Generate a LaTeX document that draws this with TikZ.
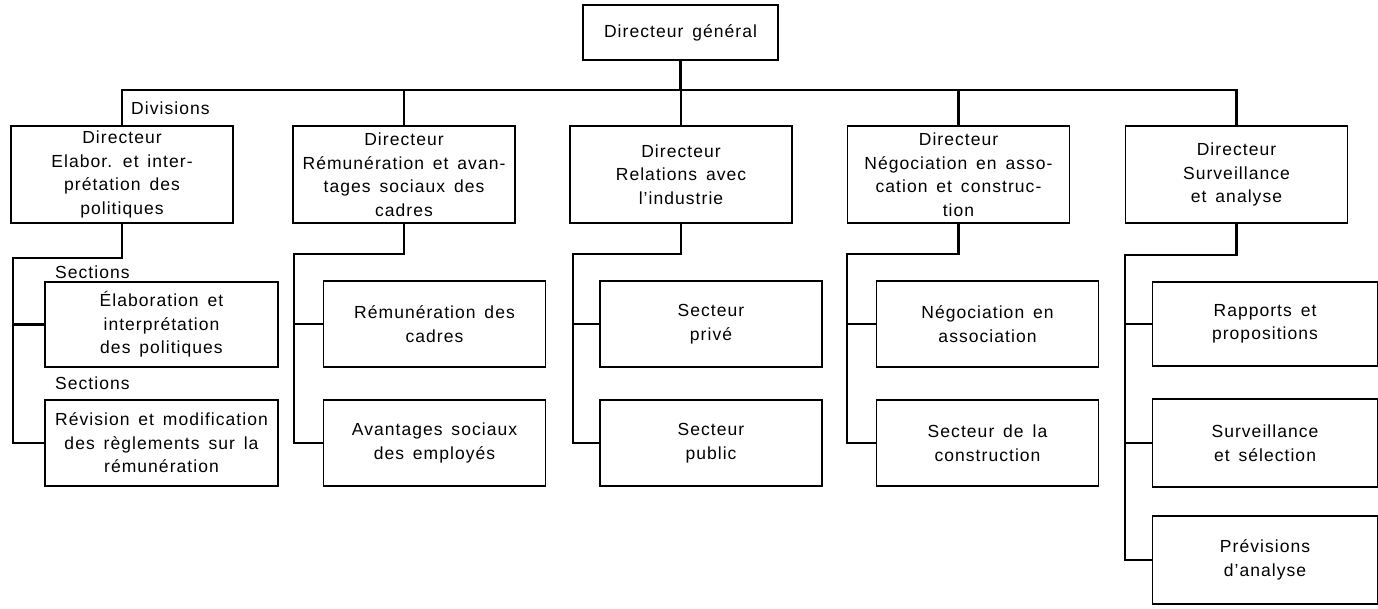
\documentclass[tikz,border=0pt]{standalone}
\usepackage{fontspec}
\setmainfont{Liberation Sans}[LetterSpace=6, WordSpace=1.5]
\newcommand{\apos}{\char"0027\relax}
\begin{document}
\begin{tikzpicture}[x=1pt,y=-1pt,
  orgbox/.style={draw, line width=1.8pt, rectangle, inner sep=0pt, align=center,
    font=\fontsize{17.5}{23.5}\selectfont},
  divbox/.style={orgbox, minimum width=222pt, minimum height=97pt},
  subbox/.style={orgbox, minimum width=222pt, minimum height=86pt},
  conn/.style={line width=2.8pt, line join=miter},
  tag/.style={anchor=west, inner sep=0pt, font=\fontsize{17.5}{20}\selectfont}]
\useasboundingbox (0,0) rectangle (1378,608);

% head of the organisation
\node[orgbox, minimum width=195pt, minimum height=55pt] (top) at (680.5,32.5) {Directeur général};

% divisions
\node[divbox] (d1) at (122,174.5) {Directeur\\Elabor. et inter-\\prétation des\\politiques};
\node[divbox] (d2) at (404,174.5) {Directeur\\Rémunération et avan-\\tages sociaux des\\cadres};
\node[divbox] (d3) at (681,174.5) {Directeur\\Relations avec\\l\apos industrie};
\node[divbox] (d4) at (958.5,174.5) {Directeur\\Négociation en asso-\\cation et construc-\\tion};
\node[divbox] (d5) at (1236.5,174.5) {Directeur\\Surveillance\\et analyse};

\coordinate (bar) at (0,90);
\draw[conn] (top.south) -- (top.south |- bar);
\draw[conn] (d1.north) |- (d5.north |- bar) -- (d5.north);
\foreach \d in {d2,d3,d4} \draw[conn] (\d.north) -- (\d.north |- bar);

\node[tag] (ldiv) at (131,108) {Divisions};

% sections under each division
\node[orgbox, minimum width=233pt, minimum height=85pt] (c11) at (161.5,324.5) {Élaboration et\\interprétation\\des politiques};
\node[orgbox, minimum width=233pt, minimum height=86pt] (c12) at (161.5,443) {Révision et modification\\des règlements sur la\\rémunération};
\node[tag] (lsec1) at (55,272) {Sections};
\node[tag] (lsec2) at (55,383) {Sections};

\node[subbox] (c21) at (434.5,324) {Rémunération des\\cadres};
\node[subbox] (c22) at (434.5,443) {Avantages sociaux\\des employés};

\node[subbox] (c31) at (711,324) {Secteur\\privé};
\node[subbox] (c32) at (711,443) {Secteur\\public};

\node[subbox] (c41) at (987.5,324) {Négociation en\\association};
\node[subbox] (c42) at (987.5,443) {Secteur de la\\construction};

\node[orgbox, minimum width=225pt, minimum height=84pt] (c51) at (1265,324) {Rapports et\\propositions};
\node[orgbox, minimum width=225pt, minimum height=88pt] (c52) at (1265,443) {Surveillance\\et sélection};
\node[orgbox, minimum width=225pt, minimum height=88pt] (c53) at (1265,560) {Prévisions\\d\apos analyse};

% spines
\coordinate (s1) at (13,258);
\coordinate (s2) at (294,254);
\coordinate (s3) at (573,254);
\coordinate (s4) at (847,254);
\coordinate (s5) at (1125,255);

\draw[conn] (d1.south) |- (s1) |- (c12.west);
\draw[conn] (s1 |- c11.west) -- (c11.west);
\draw[conn] (d2.south) |- (s2) |- (c22.west);
\draw[conn] (s2 |- c21.west) -- (c21.west);
\draw[conn] (d3.south) |- (s3) |- (c32.west);
\draw[conn] (s3 |- c31.west) -- (c31.west);
\draw[conn] (d4.south) |- (s4) |- (c42.west);
\draw[conn] (s4 |- c41.west) -- (c41.west);
\draw[conn] (d5.south) |- (s5) |- (c53.west);
\draw[conn] (s5 |- c51.west) -- (c51.west);
\draw[conn] (s5 |- c52.west) -- (c52.west);
\end{tikzpicture}
\end{document}
